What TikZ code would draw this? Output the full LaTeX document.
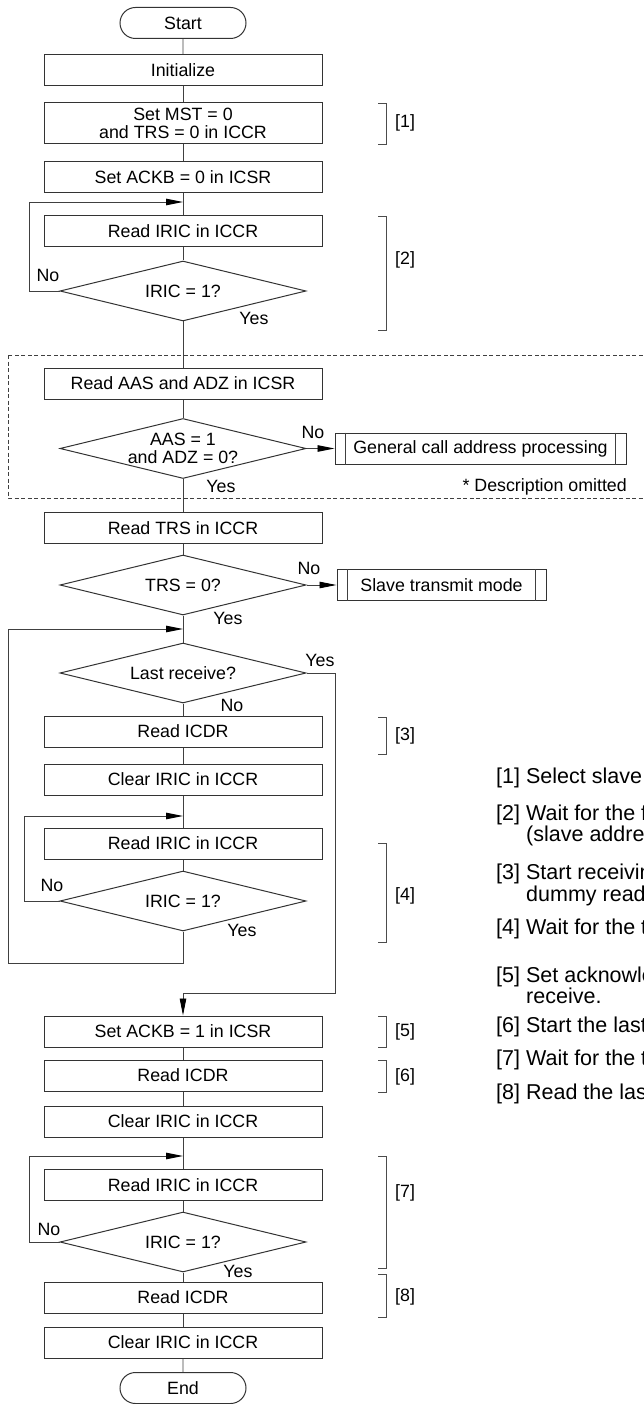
\documentclass[tikz,border=0pt]{standalone}
\usepackage{fontspec}
\setmainfont{Liberation Sans}
\usetikzlibrary{arrows.meta,shapes.geometric,shapes.misc}

\newcommand\chartfont{\fontsize{17.8}{18}\selectfont}
\newcommand\notefont{\fontsize{21.5}{22}\selectfont}

\tikzset{
  box/.style={draw=black!80,line width=1pt,minimum width=278pt,minimum height=31pt,
    inner sep=0pt,font=\chartfont,align=center},
  term/.style={rounded rectangle,draw=black!80,line width=1pt,minimum width=126pt,
    minimum height=31pt,inner sep=0pt,font=\chartfont},
  dec/.style={diamond,draw=black!80,line width=1pt,aspect=4.1,minimum width=246pt,
    minimum height=60pt,inner sep=0pt,font=\chartfont,align=center},
  sub/.style={draw=black!80,line width=1pt,minimum height=31pt,inner sep=0pt,font=\chartfont},
  flow/.style={draw=black!75,line width=0.9pt},
  flowarrow/.style={flow,-{Triangle[length=17pt,width=6.5pt,color=black]}},
  yn/.style={font=\chartfont,inner sep=0pt,text height=12.5pt,text depth=3pt},
  brk/.style={draw=black!70,line width=0.9pt},
  note/.style={font=\notefont,anchor=west,inner sep=0pt,text height=15.5pt,text depth=4.5pt}
}

\begin{document}
\begin{tikzpicture}[x=1pt,y=-1pt]
 \useasboundingbox (0,0) rectangle (644,1404);
 \clip (0,0) rectangle (644,1404);

 % main column
 \node[term] (start) at (183,23) {Start};
 \node[box] (init) at (183,70.5) {Initialize};
 \node[box,minimum height=41pt] (mst) at (183,123.5) {Set MST = 0\\and TRS = 0 in ICCR};
 \node[box] (ackb0) at (183,177.5) {Set ACKB = 0 in ICSR};
 \node[box] (riric1) at (183,231.5) {Read IRIC in ICCR};
 \node[dec] (iric1) at (183,291) {IRIC = 1?};
 \node[box] (raas) at (183,383.5) {Read AAS and ADZ in ICSR};
 \node[dec] (aas) at (183,448.5) {AAS = 1\\and ADZ = 0?};
 \node[box] (rtrs) at (183,528) {Read TRS in ICCR};
 \node[dec] (trs) at (183,585) {TRS = 0?};
 \node[dec] (last) at (183,673) {Last receive?};
 \node[box] (ricdr1) at (183,731.5) {Read ICDR};
 \node[box] (clr1) at (183,779.5) {Clear IRIC in ICCR};
 \node[box] (riric2) at (183,843.5) {Read IRIC in ICCR};
 \node[dec] (iric2) at (183,901) {IRIC = 1?};
 \node[box] (ackb1) at (183,1031.5) {Set ACKB = 1 in ICSR};
 \node[box] (ricdr2) at (183,1075.5) {Read ICDR};
 \node[box] (clr2) at (183,1121.5) {Clear IRIC in ICCR};
 \node[box] (riric3) at (183,1185) {Read IRIC in ICCR};
 \node[dec] (iric3) at (183,1242) {IRIC = 1?};
 \node[box] (ricdr3) at (183,1297.5) {Read ICDR};
 \node[box] (clr3) at (183,1342.5) {Clear IRIC in ICCR};
 \node[term] (stop) at (183,1388) {End};

 % side boxes
 \node[sub,minimum width=291pt] (gcall) at (480.5,448.5) {General call address processing};
 \node[sub,minimum width=209pt] (slave) at (441.5,585) {Slave transmit mode};
 \foreach \s in {gcall,slave}{
   \draw[flow] ([xshift=11pt]\s.north west) -- ([xshift=11pt]\s.south west);
   \draw[flow] ([xshift=-11pt]\s.north east) -- ([xshift=-11pt]\s.south east);
 }
 \node[yn,anchor=east] (omit) at (627,487) {* Description omitted};
 \draw[black!75,line width=0.9pt,dash pattern=on 4pt off 2.5pt] (8,355) rectangle (660,498);

 % connectors
 \foreach \a/\b in {start/init,init/mst,mst/ackb0,ackb0/riric1,riric1/iric1,iric1/raas,
   raas/aas,aas/rtrs,rtrs/trs,trs/last,last/ricdr1,ricdr1/clr1,clr1/riric2,riric2/iric2,
   ackb1/ricdr2,ricdr2/clr2,clr2/riric3,riric3/iric3,iric3/ricdr3,ricdr3/clr3,clr3/stop}
   \draw[flow] (\a) -- (\b);
 \draw[flowarrow] (aas) -- (gcall);
 \draw[flowarrow] (trs) -- (slave);

 \coordinate (j1) at (183,202);
 \coordinate (j2) at (183,629);
 \coordinate (j3) at (183,816);
 \coordinate (j4) at (183,1156);
 \draw[flowarrow] (iric1.west) -| (29,202) -- (j1);
 \draw[flowarrow] (iric2.south) |- (8,963) |- (j2);
 \draw[flowarrow] (iric2.west) -| (24,816) -- (j3);
 \draw[flowarrow] (iric3.west) -| (29,1156) -- (j4);
 \draw[flowarrow] (last.east) -| (335,993) -| (ackb1.north);

 % yes / no
 \node[yn] (no1) at (48,277) {No};
 \node[yn] (yes1) at (254,320) {Yes};
 \node[yn] (no2) at (313,434) {No};
 \node[yn] (yes2) at (221,488) {Yes};
 \node[yn] (no3) at (309,570) {No};
 \node[yn] (yes3) at (228,620) {Yes};
 \node[yn] (yes4) at (320,662) {Yes};
 \node[yn] (no4) at (232,707) {No};
 \node[yn] (no5) at (52,887) {No};
 \node[yn] (yes5) at (242,932) {Yes};
 \node[yn] (no6) at (49,1231) {No};
 \node[yn] (yes6) at (238,1273) {Yes};

 % step brackets
 \foreach \n/\ya/\yb/\yl in {1/103/144/123,2/216/330/260,3/717/754/736,4/843/942/896,
   5/1016/1047/1032,6/1060/1092/1077,7/1156/1268/1193,8/1274/1317/1297}{
   \draw[brk] (378,\ya) -| (386,\yb) -- (378,\yb);
   \node[yn,anchor=west] (b\n) at (395,\yl) {[\n]};
 }

 % notes
 \foreach \nm/\xx/\yy/\txt in {n1/496/778/{[1] Select slave},n2/496/815/{[2] Wait for the f},
   n2x/526/836/{(slave addre},n3/496/874/{[3] Start receivin},n3x/526/896/{dummy read},
   n4/496/929/{[4] Wait for the t},n5/496/977/{[5] Set acknowle},n5x/526/998/{receive.},
   n6/496/1027/{[6] Start the last},n7/496/1060/{[7] Wait for the t},
   n8/496/1094/{[8] Read the las}}
   \node[note] (\nm) at (\xx,\yy) {\txt};
\end{tikzpicture}
\end{document}
